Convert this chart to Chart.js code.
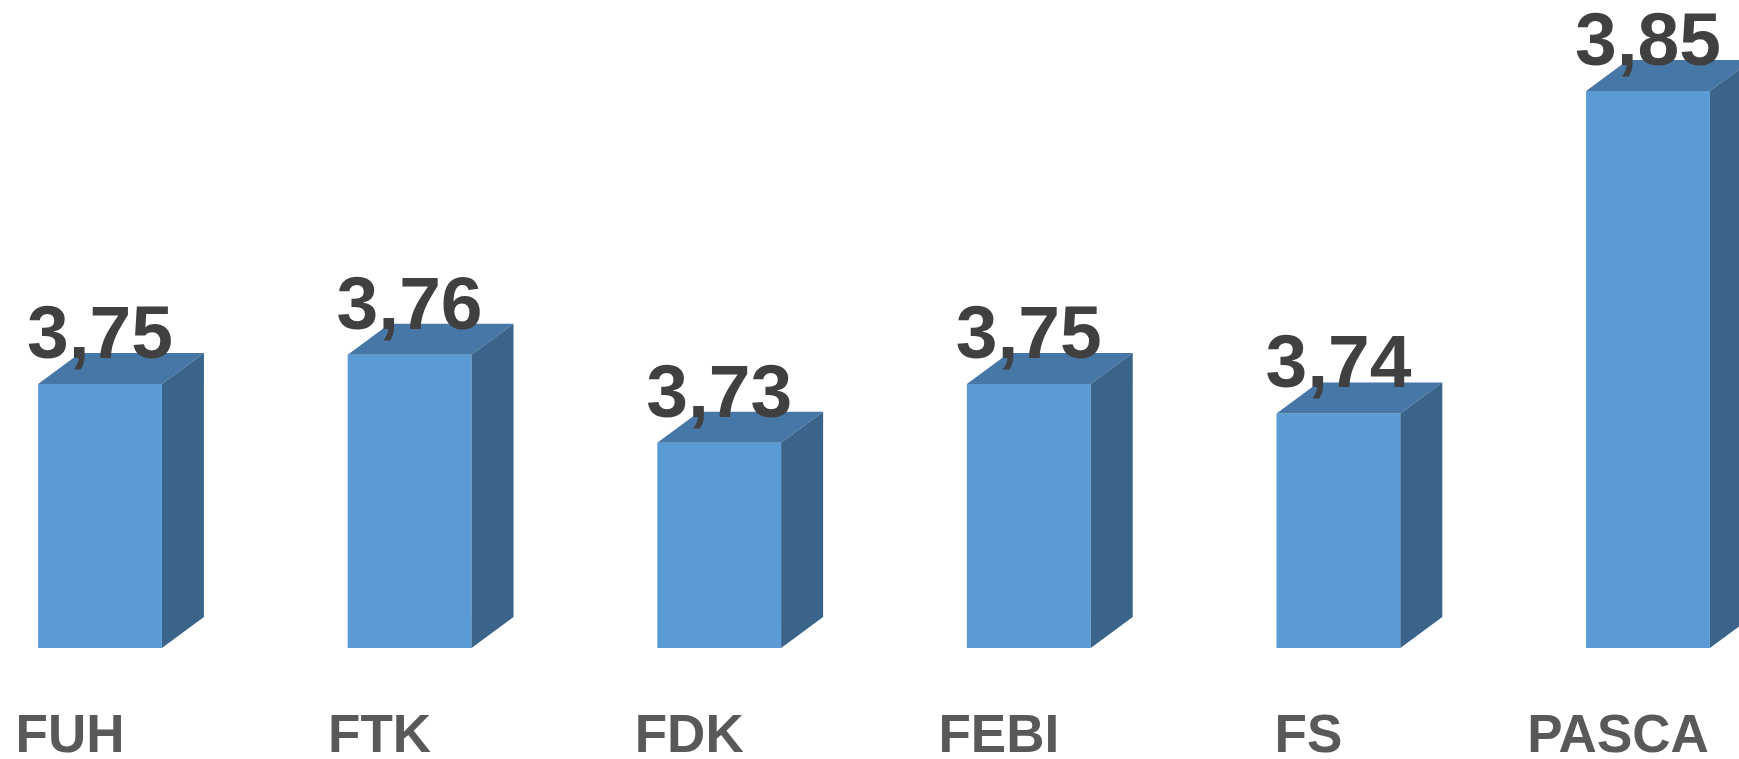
<!DOCTYPE html>
<html>
<head>
<meta charset="utf-8">
<script src="https://cdn.jsdelivr.net/npm/chart.js@4"></script>
<style>
  html, body { margin: 0; padding: 0; background: #fff; }
  #wrap { width: 1739px; height: 759px; }
</style>
</head>
<body>
<div id="wrap"><canvas id="chart"></canvas></div>
<script>
const categories = ['FUH', 'FTK', 'FDK', 'FEBI', 'FS', 'PASCA'];
const values = [3.75, 3.76, 3.73, 3.75, 3.74, 3.85];
const valueLabels = ['3,75', '3,76', '3,73', '3,75', '3,74', '3,85'];

const DEPTH_X = 42;
const DEPTH_Y = 31;

// draws the top and side faces of each bar plus the value above it
const boxes = {
  id: 'boxes',
  afterDatasetsDraw(chart) {
    const ctx = chart.ctx;
    const bottom = chart.scales.y.bottom;
    chart.getDatasetMeta(0).data.forEach((bar, i) => {
      const half = bar.width / 2;
      const x1 = bar.x - half, x2 = bar.x + half, yt = bar.y;

      ctx.save();
      ctx.fillStyle = '#4677A6';
      ctx.beginPath();
      ctx.moveTo(x1, yt);
      ctx.lineTo(x2, yt);
      ctx.lineTo(x2 + DEPTH_X, yt - DEPTH_Y);
      ctx.lineTo(x1 + DEPTH_X, yt - DEPTH_Y);
      ctx.closePath();
      ctx.fill();

      ctx.fillStyle = '#3A6489';
      ctx.beginPath();
      ctx.moveTo(x2, yt);
      ctx.lineTo(x2 + DEPTH_X, yt - DEPTH_Y);
      ctx.lineTo(x2 + DEPTH_X, bottom - DEPTH_Y);
      ctx.lineTo(x2, bottom);
      ctx.closePath();
      ctx.fill();

      ctx.fillStyle = '#404040';
      ctx.font = 'bold 75px "Liberation Sans", Arial, sans-serif';
      ctx.textAlign = 'center';
      ctx.textBaseline = 'alphabetic';
      ctx.fillText(valueLabels[i], bar.x, yt - 26);
      ctx.restore();
    });
  }
};

new Chart(document.getElementById('chart'), {
  type: 'bar',
  data: {
    labels: categories,
    datasets: [{
      data: values,
      backgroundColor: '#5B9BD5',
      borderWidth: 0,
      categoryPercentage: 1,
      barPercentage: 0.4,
      clip: { left: 150, right: 150, top: 50, bottom: 0 }
    }]
  },
  options: {
    responsive: true,
    maintainAspectRatio: false,
    animation: false,
    layout: { padding: { left: 100, right: 91, top: 0, bottom: 0 } },
    plugins: {
      legend: { display: false },
      tooltip: { enabled: false }
    },
    scales: {
      x: {
        offset: false,
        grid: { display: false, drawTicks: false },
        border: { display: false },
        ticks: {
          color: '#595959',
          font: { family: '"Liberation Sans", Arial, sans-serif', size: 53, weight: 'bold' },
          padding: 58,
          labelOffset: -30,
          maxRotation: 0,
          minRotation: 0,
          autoSkip: false
        },
        afterFit: (axis) => {
          axis.height = 111;
          axis.paddingLeft = 0;
          axis.paddingRight = 0;
        }
      },
      y: {
        display: false,
        min: 3.66,
        max: 3.881
      }
    }
  },
  plugins: [boxes]
});
</script>
</body>
</html>
